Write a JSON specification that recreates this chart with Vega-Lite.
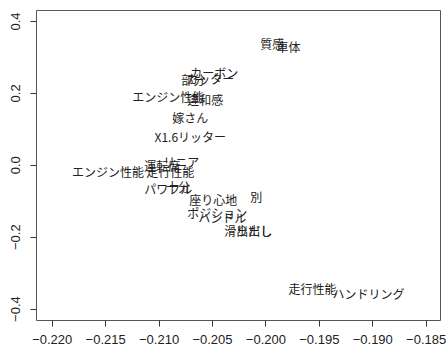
{
  "$schema": "https://vega.github.io/schema/vega-lite/v6.json",
  "autosize": "none",
  "width": 404,
  "height": 310,
  "padding": {"left": 36, "top": 10, "right": 6, "bottom": 29},
  "background": "white",
  "config": {
    "view": {"stroke": "#555", "strokeWidth": 1},
    "axis": {"grid": false, "domain": false, "tickColor": "#333", "tickSize": 6, "labelFont": "Liberation Sans", "labelFontSize": 13, "labelColor": "#222", "title": null}
  },
  "data": {"values": [
    {"label": "質感", "x": -0.19935, "y": 0.3325},
    {"label": "車体", "x": -0.19785, "y": 0.3242},
    {"label": "カーボン", "x": -0.20478, "y": 0.2519},
    {"label": "部分", "x": -0.20675, "y": 0.2325},
    {"label": "カッター", "x": -0.20516, "y": 0.2353},
    {"label": "エンジン性能", "x": -0.2091, "y": 0.1853},
    {"label": "違和感", "x": -0.20563, "y": 0.1769},
    {"label": "嫁さん", "x": -0.20703, "y": 0.1269},
    {"label": "X1.6リッター", "x": -0.20703, "y": 0.0742},
    {"label": "運転席", "x": -0.20966, "y": -0.0064},
    {"label": "リニア", "x": -0.20788, "y": 0.0047},
    {"label": "エンジン性能", "x": -0.21472, "y": -0.0231},
    {"label": "走行性能", "x": -0.20891, "y": -0.0231},
    {"label": "パワフル", "x": -0.2091, "y": -0.0703},
    {"label": "十分", "x": -0.20816, "y": -0.0647},
    {"label": "座り心地", "x": -0.20488, "y": -0.1008},
    {"label": "別", "x": -0.20085, "y": -0.0925},
    {"label": "ポジション", "x": -0.2045, "y": -0.1369},
    {"label": "ハンドル", "x": -0.20403, "y": -0.1508},
    {"label": "滑り出し", "x": -0.2016, "y": -0.1869},
    {"label": "出だし", "x": -0.20104, "y": -0.1869},
    {"label": "走行性能", "x": -0.1956, "y": -0.3481},
    {"label": "ハンドリング", "x": -0.19035, "y": -0.3619}
  ]},
  "mark": {"type": "text", "font": "Noto Sans CJK JP", "fontSize": 12, "color": "#222", "align": "center", "baseline": "middle"},
  "encoding": {
    "x": {"field": "x", "type": "quantitative", "scale": {"domain": [-0.22147, -0.18366], "nice": false, "zero": false},
      "axis": {"values": [-0.22, -0.215, -0.21, -0.205, -0.2, -0.195, -0.19, -0.185], "format": ".3f", "labelPadding": 7}},
    "y": {"field": "y", "type": "quantitative", "scale": {"domain": [-0.4317, 0.4306], "nice": false, "zero": false},
      "axis": {"values": [-0.4, -0.2, 0, 0.2, 0.4], "format": ".1f", "labelAngle": -90, "labelAlign": "center", "labelBaseline": "bottom", "labelPadding": 8}},
    "text": {"field": "label", "type": "nominal"}
  }
}
